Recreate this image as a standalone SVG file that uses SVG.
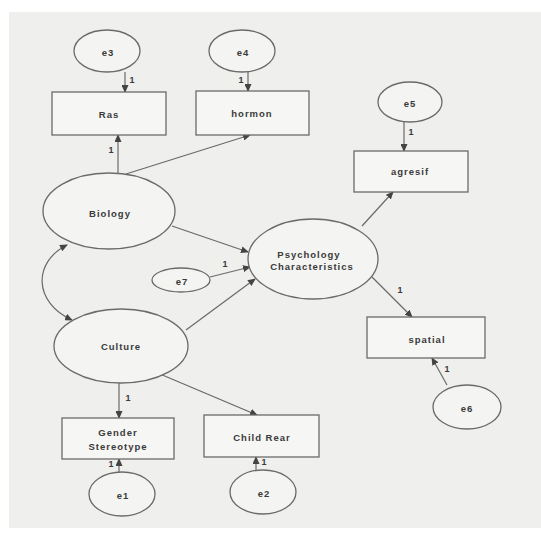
<svg xmlns="http://www.w3.org/2000/svg" width="541" height="534" viewBox="0 0 541 534">
<defs>
<marker id="ah" markerUnits="userSpaceOnUse" markerWidth="8" markerHeight="7" refX="7" refY="3.5" orient="auto-start-reverse">
<path d="M0,0 L8,3.5 L0,7 z" fill="#444"/>
</marker>
<style>
.bg{fill:#efefed}
.n ellipse{fill:#f4f4f2;stroke:#6a6a6a;stroke-width:1.3}
.n rect{fill:#f6f6f4;stroke:#6a6a6a;stroke-width:1.3}
text{font-family:"Liberation Sans",Arial,sans-serif;font-size:9.5px;font-weight:bold;fill:#3a3a3a;letter-spacing:1px;text-anchor:middle;dominant-baseline:central}
.c line,.c path{stroke:#6a6a6a;stroke-width:1.2;fill:none;marker-end:url(#ah)}
.c text{font-size:9px;letter-spacing:0}
</style>
</defs>
<rect x="0" y="0" width="541" height="534" fill="#ffffff"/>
<rect class="bg" x="9" y="12" width="532" height="516"/>

<g id="connectors" class="c">
<line x1="125" y1="72" x2="125" y2="92"/>
<text x="132" y="80">1</text>
<line x1="248" y1="72" x2="248" y2="91"/>
<text x="241" y="80">1</text>
<line x1="118" y1="174" x2="118" y2="135"/>
<text x="111" y="150">1</text>
<line x1="126" y1="174" x2="250" y2="135"/>
<line x1="404" y1="122" x2="404" y2="151"/>
<text x="411" y="132">1</text>
<line x1="362" y1="226" x2="393" y2="192"/>
<line x1="172" y1="226" x2="248" y2="252"/>
<line x1="210" y1="277" x2="250" y2="267"/>
<text x="225" y="264">1</text>
<line x1="186" y1="330" x2="255" y2="279"/>
<path d="M67,245 C33,262 33,302 72,320" marker-start="url(#ah)"/>
<line x1="372" y1="277" x2="412" y2="317"/>
<text x="400" y="290">1</text>
<line x1="447" y1="385" x2="432" y2="358"/>
<text x="447" y="369">1</text>
<line x1="119" y1="383" x2="119" y2="418"/>
<text x="128" y="398">1</text>
<line x1="160" y1="374" x2="257" y2="415"/>
<line x1="119" y1="472" x2="119" y2="459"/>
<text x="111" y="464">1</text>
<line x1="256" y1="470" x2="256" y2="457"/>
<text x="264" y="462">1</text>
</g>

<g id="e3" class="n"><ellipse cx="107" cy="51" rx="33" ry="21"/><text x="108" y="52">e3</text></g>
<g id="e4" class="n"><ellipse cx="242" cy="51" rx="33" ry="21"/><text x="243" y="52">e4</text></g>
<g id="ras" class="n"><rect x="52" y="92" width="114" height="43"/><text x="109" y="114">Ras</text></g>
<g id="hormon" class="n"><rect x="196" y="91" width="113" height="44"/><text x="252" y="113">hormon</text></g>
<g id="e5" class="n"><ellipse cx="410" cy="102" rx="32" ry="20"/><text x="410" y="103">e5</text></g>
<g id="agresif" class="n"><rect x="354" y="151" width="114" height="41"/><text x="410" y="171">agresif</text></g>
<g id="biology" class="n"><ellipse cx="109" cy="211" rx="66" ry="38"/><text x="110" y="213">Biology</text></g>
<g id="psych" class="n"><ellipse cx="313" cy="259" rx="65" ry="40"/><text x="309" y="254">Psychology</text><text x="312" y="266">Characteristics</text></g>
<g id="e7" class="n"><ellipse cx="181" cy="280" rx="29" ry="12"/><text x="182" y="281">e7</text></g>
<g id="culture" class="n"><ellipse cx="121" cy="346" rx="67" ry="37"/><text x="121" y="346">Culture</text></g>
<g id="spatial" class="n"><rect x="367" y="317" width="118" height="41"/><text x="427" y="339">spatial</text></g>
<g id="e6" class="n"><ellipse cx="467" cy="407" rx="34" ry="22"/><text x="467" y="408">e6</text></g>
<g id="gender" class="n"><rect x="62" y="418" width="112" height="41"/><text x="118" y="432">Gender</text><text x="118" y="446">Stereotype</text></g>
<g id="childrear" class="n"><rect x="204" y="415" width="115" height="42"/><text x="262" y="437">Child Rear</text></g>
<g id="e1" class="n"><ellipse cx="122" cy="494" rx="33" ry="22"/><text x="123" y="495">e1</text></g>
<g id="e2" class="n"><ellipse cx="263" cy="492" rx="33" ry="22"/><text x="264" y="493">e2</text></g>
</svg>
